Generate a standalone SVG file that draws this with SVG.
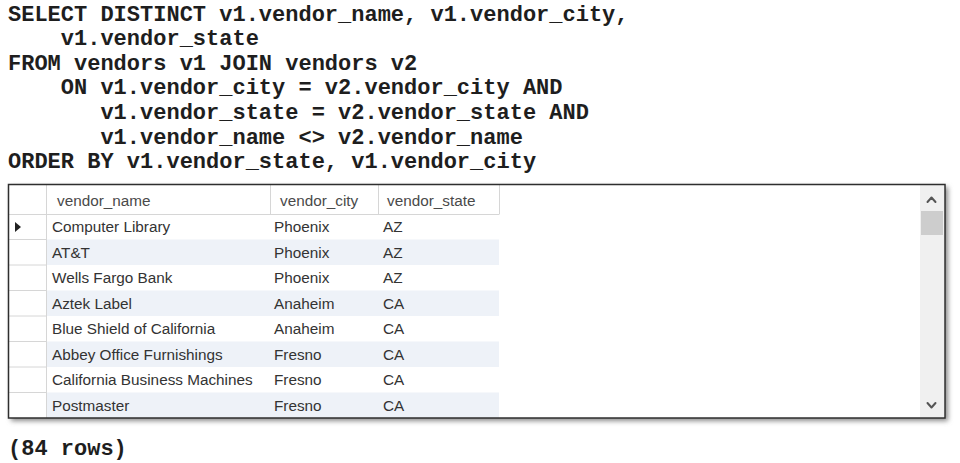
<svg xmlns="http://www.w3.org/2000/svg" width="960" height="463" viewBox="0 0 960 463">
  <defs>
    <style>
      .sql { font-family: "Liberation Mono", "Courier New", monospace; font-weight: bold; font-size: 22px; fill: #1e1e1e; white-space: pre; }
      .hdr { font-family: "Liberation Sans", Arial, sans-serif; font-size: 15.3px; fill: #4a4a4a; }
      .cell { font-family: "Liberation Sans", Arial, sans-serif; font-size: 15.3px; fill: #333333; }
      .grid { stroke: #d6d6d6; stroke-width: 1; fill: none; }
      .stripe { fill: #eef2f8; }
      .chev { stroke: #555555; stroke-width: 2; fill: none; stroke-linecap: round; stroke-linejoin: round; }
    </style>
    <filter id="shadow" x="-5%" y="-5%" width="110%" height="115%">
      <feGaussianBlur stdDeviation="2.5"/>
    </filter>
  </defs>
  <rect width="960" height="463" fill="#ffffff"/>

  <g id="sql-query">
    <text class="sql" x="8" y="20.5" xml:space="preserve">SELECT DISTINCT v1.vendor_name, v1.vendor_city,</text>
    <text class="sql" x="8" y="45.1" xml:space="preserve">    v1.vendor_state</text>
    <text class="sql" x="8" y="69.7" xml:space="preserve">FROM vendors v1 JOIN vendors v2</text>
    <text class="sql" x="8" y="94.3" xml:space="preserve">    ON v1.vendor_city = v2.vendor_city AND</text>
    <text class="sql" x="8" y="118.9" xml:space="preserve">       v1.vendor_state = v2.vendor_state AND</text>
    <text class="sql" x="8" y="143.5" xml:space="preserve">       v1.vendor_name &lt;&gt; v2.vendor_name</text>
    <text class="sql" x="8" y="168.1" xml:space="preserve">ORDER BY v1.vendor_state, v1.vendor_city</text>
  </g>

  <g id="result-grid">
    <rect x="11" y="187" width="937" height="234" fill="#8a8a8a" filter="url(#shadow)"/>
    <rect x="8" y="184" width="937" height="234" fill="#ffffff"/>
    <!-- stripes -->
    <rect class="stripe" x="46" y="239.5" width="453" height="25.5"/>
    <rect class="stripe" x="46" y="290.5" width="453" height="25.5"/>
    <rect class="stripe" x="46" y="341.5" width="453" height="25.5"/>
    <rect class="stripe" x="46" y="392.5" width="453" height="25.5"/>
    <!-- grid lines -->
    <line class="grid" x1="46.5" y1="184" x2="46.5" y2="418"/>
    <line class="grid" x1="270.5" y1="184" x2="270.5" y2="214"/>
    <line class="grid" x1="378.5" y1="184" x2="378.5" y2="214"/>
    <line class="grid" x1="499.5" y1="184" x2="499.5" y2="214"/>
    <line class="grid" x1="8" y1="214.5" x2="499.5" y2="214.5"/>
    <line class="grid" x1="8" y1="239.5" x2="46" y2="239.5"/>
    <line class="grid" x1="8" y1="265" x2="46" y2="265"/>
    <line class="grid" x1="8" y1="290.5" x2="46" y2="290.5"/>
    <line class="grid" x1="8" y1="316" x2="46" y2="316"/>
    <line class="grid" x1="8" y1="341.5" x2="46" y2="341.5"/>
    <line class="grid" x1="8" y1="367" x2="46" y2="367"/>
    <line class="grid" x1="8" y1="392.5" x2="46" y2="392.5"/>

    <!-- header -->
    <text class="hdr" x="57" y="206">vendor_name</text>
    <text class="hdr" x="280" y="206">vendor_city</text>
    <text class="hdr" x="387" y="206">vendor_state</text>

    <!-- row indicator -->
    <polygon points="15,222 21,227 15,232" fill="#222222"/>

    <!-- rows -->
    <text class="cell" x="52" y="232">Computer Library</text>
    <text class="cell" x="274" y="232">Phoenix</text>
    <text class="cell" x="383" y="232">AZ</text>

    <text class="cell" x="52" y="257.5">AT&amp;T</text>
    <text class="cell" x="274" y="257.5">Phoenix</text>
    <text class="cell" x="383" y="257.5">AZ</text>

    <text class="cell" x="52" y="283">Wells Fargo Bank</text>
    <text class="cell" x="274" y="283">Phoenix</text>
    <text class="cell" x="383" y="283">AZ</text>

    <text class="cell" x="52" y="308.5">Aztek Label</text>
    <text class="cell" x="274" y="308.5">Anaheim</text>
    <text class="cell" x="383" y="308.5">CA</text>

    <text class="cell" x="52" y="334">Blue Shield of California</text>
    <text class="cell" x="274" y="334">Anaheim</text>
    <text class="cell" x="383" y="334">CA</text>

    <text class="cell" x="52" y="359.5">Abbey Office Furnishings</text>
    <text class="cell" x="274" y="359.5">Fresno</text>
    <text class="cell" x="383" y="359.5">CA</text>

    <text class="cell" x="52" y="385">California Business Machines</text>
    <text class="cell" x="274" y="385">Fresno</text>
    <text class="cell" x="383" y="385">CA</text>

    <text class="cell" x="52" y="410.5">Postmaster</text>
    <text class="cell" x="274" y="410.5">Fresno</text>
    <text class="cell" x="383" y="410.5">CA</text>

    <!-- scrollbar -->
    <rect x="920" y="185" width="24" height="232" fill="#f0f0f0"/>
    <polyline class="chev" points="927.5,202 931.5,197.5 935.5,202"/>
    <rect x="921" y="211" width="22" height="24" fill="#cdcdcd"/>
    <polyline class="chev" points="927.5,403 931.5,407.5 935.5,403"/>

    <!-- outer border -->
    <rect x="8.5" y="184.5" width="936.5" height="233.5" fill="none" stroke="#2e2e2e" stroke-width="1.5"/>
  </g>

  <g id="row-count">
    <text class="sql" x="8" y="455" xml:space="preserve">(84 rows)</text>
  </g>
</svg>
